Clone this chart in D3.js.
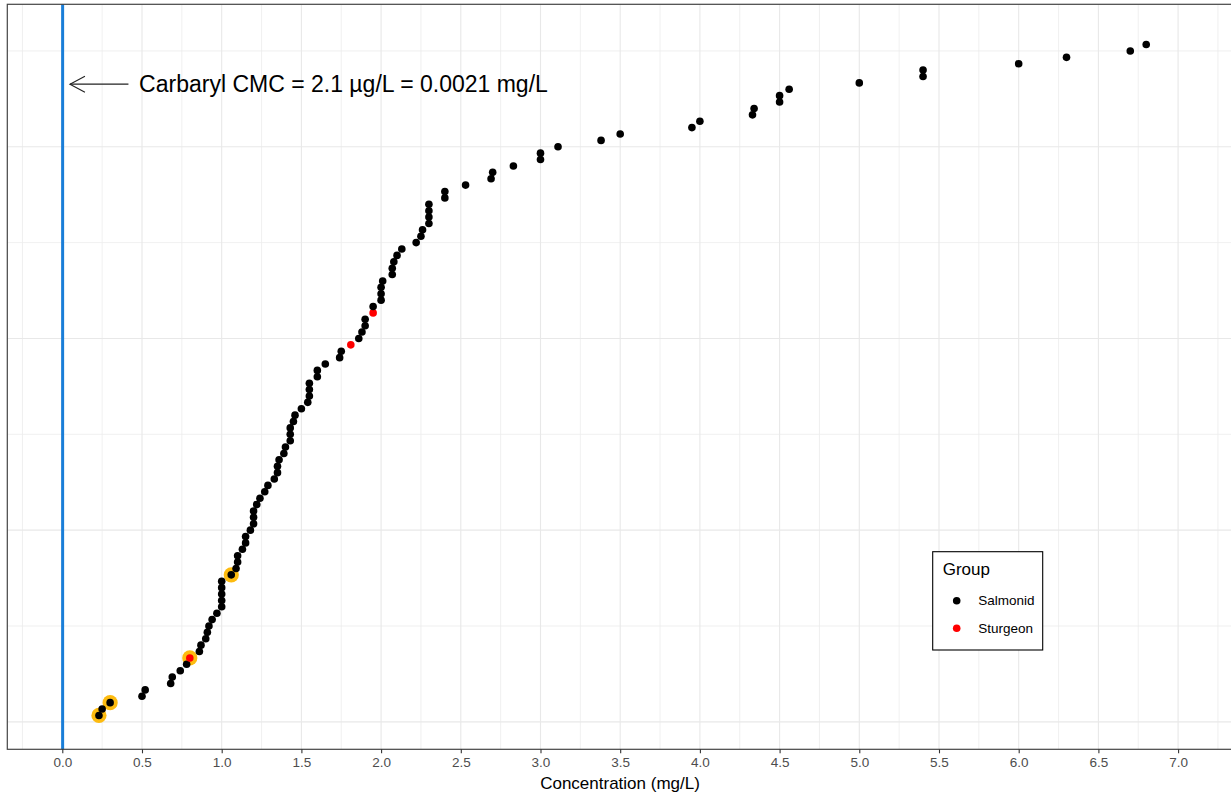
<!DOCTYPE html>
<html>
<head>
<meta charset="utf-8">
<script src="https://cdn.jsdelivr.net/npm/d3@7"></script>
<style>
  body { margin: 0; background: #fff; }
  svg { display: block; font-family: "Liberation Sans", Arial, sans-serif; }
</style>
</head>
<body>
<svg id="chart" width="1231" height="794"></svg>
<script>
"use strict";

// sorted toxicity values (mg/L), one per rank
let concentrations = [
    0.23, 0.25, 0.30, 0.50, 0.52, 0.68, 0.69, 0.74, 0.78, 0.80,
    0.86, 0.87, 0.90, 0.91, 0.92, 0.94, 0.97, 1.00, 1.00, 1.00,
    1.00, 1.00, 1.06, 1.09, 1.10, 1.10, 1.13, 1.15, 1.15, 1.18,
    1.20, 1.20, 1.20, 1.22, 1.24, 1.27, 1.29, 1.33, 1.35, 1.35,
    1.36, 1.39, 1.40, 1.43, 1.43, 1.43, 1.45, 1.46, 1.50, 1.54,
    1.55, 1.55, 1.55, 1.60, 1.60, 1.65, 1.74, 1.75, 1.81, 1.86,
    1.88, 1.90, 1.90, 1.95, 1.95, 2.00, 2.00, 2.00, 2.01, 2.07,
    2.07, 2.08, 2.10, 2.13, 2.22, 2.25, 2.26, 2.30, 2.30, 2.30,
    2.30, 2.40, 2.40, 2.53, 2.69, 2.70, 2.83, 3.00, 3.00, 3.11,
    3.38, 3.50, 3.95, 4.00, 4.33, 4.34, 4.50, 4.50, 4.56, 5.00,
    5.40, 5.40, 6.00, 6.30, 6.70, 6.80
];

let sturgeonRanks = [10, 59, 64];
let highlightRanks = [1, 3, 10, 23];

let groupNames = ["Salmonid", "Sturgeon"];
let groupColors = ["#000000", "#ff0000"];

let xTickValues = [0, 0.5, 1, 1.5, 2, 2.5, 3, 3.5, 4, 4.5, 5, 5.5, 6, 6.5, 7];
let xMinorValues = [-0.25, 0.25, 0.75, 1.25, 1.75, 2.25, 2.75, 3.25, 3.75, 4.25, 4.75, 5.25, 5.75, 6.25, 6.75, 7.25];
let yMajorValues = [0, 30, 60, 90];
let yMinorValues = [15, 45, 75, 105];

let cmcValue = 0.0021;
let cmcLabel = "Carbaryl CMC = 2.1 \u00b5g/L = 0.0021 mg/L";
let xTitle = "Concentration (mg/L)";

let svg = d3.select("#chart"),
    panel = { left: 7.3, top: 4.3, right: 1240, bottom: 749.3 };

let x = d3.scaleLinear().domain([-0.345, 7.335]).range([panel.left, panel.left + (7.335 + 0.345) * 159.4]);
let y = d3.scaleLinear().domain([-4.3, 112.3]).range([panel.bottom, panel.top]);

let points = concentrations.map(function (c, i) {
    let rank = i + 1;
    return {
        conc: c,
        rank: rank,
        group: sturgeonRanks.indexOf(rank) >= 0 ? "Sturgeon" : "Salmonid",
        highlight: highlightRanks.indexOf(rank) >= 0
    };
});

let color = d3.scaleOrdinal().domain(groupNames).range(groupColors);

svg.append("rect").attr("x", panel.left).attr("y", panel.top)
    .attr("width", panel.right - panel.left).attr("height", panel.bottom - panel.top)
    .attr("fill", "#fff");

// grid
let grid = svg.append("g");
grid.selectAll(".xminor").data(xMinorValues).enter().append("line")
    .attr("x1", function (d) { return x(d); }).attr("x2", function (d) { return x(d); })
    .attr("y1", panel.top).attr("y2", panel.bottom)
    .attr("stroke", "#ececec").attr("stroke-width", 0.8);
grid.selectAll(".yminor").data(yMinorValues).enter().append("line")
    .attr("x1", panel.left).attr("x2", panel.right)
    .attr("y1", function (d) { return y(d); }).attr("y2", function (d) { return y(d); })
    .attr("stroke", "#ececec").attr("stroke-width", 0.8);
grid.selectAll(".xmajor").data(xTickValues).enter().append("line")
    .attr("x1", function (d) { return x(d); }).attr("x2", function (d) { return x(d); })
    .attr("y1", panel.top).attr("y2", panel.bottom)
    .attr("stroke", "#e8e8e8").attr("stroke-width", 1.1);
grid.selectAll(".ymajor").data(yMajorValues).enter().append("line")
    .attr("x1", panel.left).attr("x2", panel.right)
    .attr("y1", function (d) { return y(d); }).attr("y2", function (d) { return y(d); })
    .attr("stroke", "#e8e8e8").attr("stroke-width", 1.1);

// CMC line
svg.append("line")
    .attr("x1", x(cmcValue)).attr("x2", x(cmcValue))
    .attr("y1", panel.top).attr("y2", panel.bottom)
    .attr("stroke", "#1a7ed8").attr("stroke-width", 3);

// highlight rings then points
svg.append("g").selectAll("circle").data(points.filter(function (d) { return d.highlight; }))
    .enter().append("circle")
    .attr("cx", function (d) { return x(d.conc); })
    .attr("cy", function (d) { return y(d.rank); })
    .attr("r", 7.6)
    .attr("fill", "#fdbb10");

svg.append("g").selectAll("circle").data(points).enter().append("circle")
    .attr("cx", function (d) { return x(d.conc); })
    .attr("cy", function (d) { return y(d.rank); })
    .attr("r", 3.8)
    .attr("fill", function (d) { return color(d.group); });

// annotation arrow + text
let ann = svg.append("g");
let tipX = x(0.048), tailX = x(0.415), annY = y(99.8);
ann.append("line").attr("x1", tailX).attr("x2", tipX).attr("y1", annY).attr("y2", annY)
    .attr("stroke", "#222").attr("stroke-width", 1.1);
ann.append("path")
    .attr("d", "M" + (tipX + 15) + "," + (annY - 8) + "L" + tipX + "," + annY + "L" + (tipX + 15) + "," + (annY + 8))
    .attr("fill", "none").attr("stroke", "#222").attr("stroke-width", 1.1);
ann.append("text").attr("x", x(0.482)).attr("y", annY).attr("dy", "0.36em")
    .attr("font-size", "23px").attr("fill", "#000").text(cmcLabel);

// panel border
svg.append("rect").attr("x", panel.left).attr("y", panel.top)
    .attr("width", panel.right - panel.left).attr("height", panel.bottom - panel.top)
    .attr("fill", "none").attr("stroke", "#444").attr("stroke-width", 1.2);

// x axis
let xAxis = svg.append("g").attr("transform", "translate(0," + panel.bottom + ")")
    .call(d3.axisBottom(x).tickValues(xTickValues).tickSize(4).tickPadding(4)
        .tickFormat(d3.format(".1f")));
xAxis.select(".domain").remove();
xAxis.selectAll(".tick line").attr("stroke", "#333").attr("stroke-width", 1.1);
xAxis.selectAll(".tick text").attr("fill", "#4d4d4d").attr("font-size", "13.5px")
    .attr("font-family", "Liberation Sans, Arial, sans-serif");

svg.append("text").attr("x", 620).attr("y", 789)
    .attr("text-anchor", "middle").attr("font-size", "17px").attr("fill", "#000")
    .text(xTitle);

// legend
let legend = svg.append("g").attr("transform", "translate(932.7,551.7)");
legend.append("rect").attr("width", 110).attr("height", 98.3)
    .attr("fill", "#fff").attr("stroke", "#000").attr("stroke-width", 1.1);
legend.append("text").attr("x", 10).attr("y", 23.5).attr("font-size", "17px").attr("fill", "#000").text("Group");
let items = legend.selectAll(".item").data(groupNames).enter().append("g")
    .attr("transform", function (d, i) { return "translate(0," + (49 + i * 27.5) + ")"; });
items.append("circle").attr("cx", 24).attr("cy", 0).attr("r", 3.8)
    .attr("fill", function (d) { return color(d); });
items.append("text").attr("x", 45.5).attr("y", 0).attr("dy", "0.35em")
    .attr("font-size", "13.5px").attr("fill", "#000").text(function (d) { return d; });
</script>
</body>
</html>
